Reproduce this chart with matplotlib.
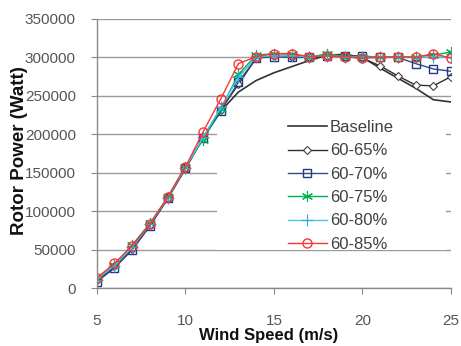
import matplotlib.pyplot as plt
from matplotlib.patches import Rectangle

plt.rcParams['font.family'] = ['Liberation Sans', 'DejaVu Sans']

wind = list(range(5, 26))

baseline = [9000, 27000, 50000, 81000, 116000, 155000, 195000, 230000, 255000, 270000, 280000,
            288000, 296000, 303000, 304000, 300000, 286000, 273000, 260000, 245000, 242000]
p65 = [10000, 28000, 51000, 82000, 117000, 156000, 196000, 232000, 265000, 299000, 302000,
       301000, 300000, 302000, 301000, 299000, 289000, 276000, 264000, 263000, 275000]
p70 = [8000, 26000, 50000, 81000, 117000, 156000, 195000, 230000, 268000, 299000, 301000,
       300000, 300000, 302000, 302000, 302000, 300000, 300000, 292000, 285000, 282000]
p75 = [12000, 30000, 56000, 84000, 118000, 158000, 193000, 233000, 278000, 303000, 305000,
       304000, 300000, 305000, 301000, 300000, 301000, 301000, 301000, 303000, 307000]
p80 = [11000, 29000, 53000, 83000, 117000, 156000, 196000, 235000, 274000, 301000, 302000,
       302000, 301000, 302000, 301000, 300000, 300000, 301000, 300000, 301000, 300000]
p85 = [13000, 32000, 55000, 83000, 118000, 157000, 203000, 246000, 292000, 301000, 305000,
       305000, 301000, 302000, 301000, 299000, 300000, 301000, 300000, 305000, 299000]

fig = plt.figure(figsize=(4.61, 3.46), dpi=100)
ax = fig.add_axes([0.2098, 0.1676, 0.7686, 0.7775])

ax.plot(wind, baseline, color='#333333', lw=1.2, label='Baseline')
ax.plot(wind, p65, color='#303030', lw=1.0, marker='D', ms=4.5, mfc='white', mec='#404040',
        mew=0.8, label='60-65%')
ax.plot(wind, p70, color='#2F4A8A', lw=1.0, marker='s', ms=6, mfc='none', mec='#1F3A80',
        mew=1.0, label='60-70%')
ax.plot(wind, p75, color='#00B050', lw=1.0, marker=(6, 2, 0), ms=8, mec='#00B050',
        mew=0.8, label='60-75%')
ax.plot(wind, p80, color='#4CC3F0', lw=1.0, marker='+', ms=8, mec='#2EA8E0',
        mew=0.8, label='60-80%')
ax.plot(wind, p85, color='#FF3333', lw=1.0, marker='o', ms=6.5, mfc='none', mec='#FF3333',
        mew=1.0, label='60-85%')

ax.set_xlim(5, 25)
ax.set_ylim(0, 350000)
ax.set_xticks([5, 10, 15, 20, 25])
ax.set_yticks(range(0, 350001, 50000))

ax.set_axisbelow(True)
ax.grid(axis='y', color='#9A9A9A', lw=1.0)
ax.grid(axis='x', visible=False)
for side in ['top', 'right']:
    ax.spines[side].set_visible(False)
for side in ['left', 'bottom']:
    ax.spines[side].set_color('#8A8A8A')
    ax.spines[side].set_linewidth(1.0)

ax.tick_params(axis='both', colors='#8A8A8A', labelcolor='#555555', labelsize=11, length=4)
ax.tick_params(axis='x', pad=15)
ax.tick_params(axis='y', pad=11)

ax.set_xlabel('Wind Speed (m/s)', fontsize=12, fontweight='bold', color='#111111')
ax.set_ylabel('Rotor Power (Watt)', fontsize=13.5, fontweight='bold', color='#111111')
ax.xaxis.set_label_coords(0.485, -0.148)
ax.yaxis.set_label_coords(-0.195, 0.51)

# white legend area hiding the grid lines behind it
ax.add_patch(Rectangle((0.34, 0.14), 0.645, 0.47, transform=ax.transAxes,
                       facecolor='white', edgecolor='none', zorder=1))

leg = ax.legend(loc='upper left', bbox_to_anchor=(0.515, 0.655), frameon=False,
                fontsize=12, handlelength=2.35, handletextpad=0.2, labelspacing=0.5,
                borderpad=0, numpoints=1)
for t in leg.get_texts():
    t.set_color('#404040')

fig.savefig('out.png', dpi=100)
